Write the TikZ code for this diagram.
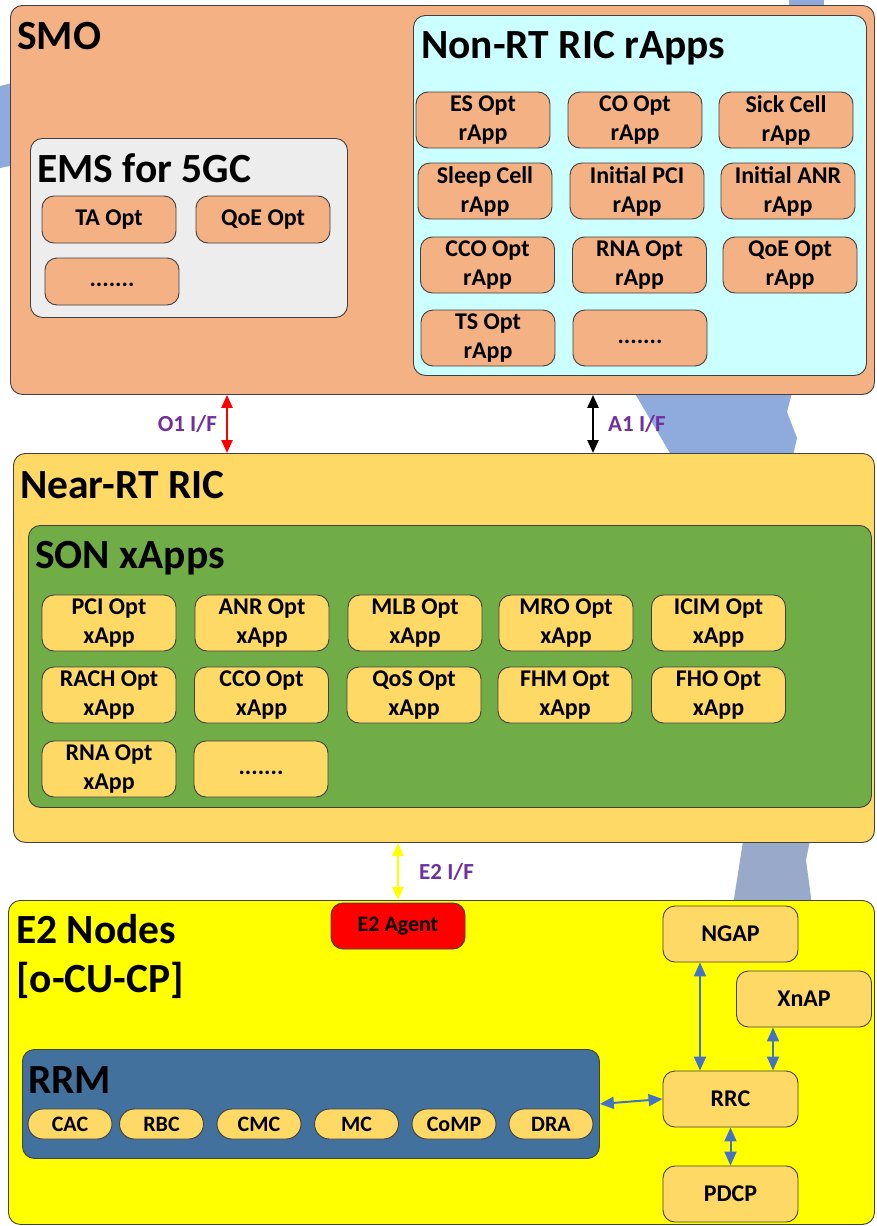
\documentclass[tikz,border=0pt]{standalone}
\usepackage{fontspec}
\setmainfont{Carlito}
\usetikzlibrary{arrows.meta,positioning}
\definecolor{edgecol}{HTML}{404040}
\definecolor{smocol}{HTML}{F4B183}
\definecolor{nonrtcol}{HTML}{CCFFFF}
\definecolor{emscol}{HTML}{EDEDED}
\definecolor{nearcol}{HTML}{FFD966}
\definecolor{soncol}{HTML}{70AD47}
\definecolor{e2col}{HTML}{FFFF00}
\definecolor{rrmcol}{HTML}{41719C}
\definecolor{ifcol}{HTML}{7030A0}
\definecolor{linkcol}{HTML}{4472C4}
\definecolor{bgblue}{HTML}{8FAADC}
\definecolor{bggrey}{HTML}{98A9C9}

\begin{document}
\begin{tikzpicture}[
    x=1pt, y=-1pt,
    panel/.style={draw=edgecol, line width=0.9pt, rounded corners=12pt,
      anchor=north west, inner sep=0pt},
    paneltitle/.style={anchor=base west, inner sep=0pt,
      font=\fontsize{41.5}{45}\selectfont\bfseries},
    appbox/.style={draw=edgecol, line width=0.9pt, rounded corners=12pt,
      minimum width=134pt, minimum height=56pt, inner sep=0pt, align=center,
      font=\fontsize{24}{29}\selectfont\bfseries},
    rapp/.style={appbox, fill=smocol},
    xapp/.style={appbox, fill=nearcol},
    dotsbox/.style={text height=15pt, text depth=5pt},
    pill/.style={draw=edgecol, line width=0.9pt, rounded corners=15pt,
      minimum width=84pt, minimum height=30pt, inner sep=0pt, fill=nearcol,
      font=\fontsize{22}{26}\selectfont\bfseries},
    ifarrow/.style={line width=2.4pt,
      {Triangle[width=11pt,length=13pt]}-{Triangle[width=11pt,length=13pt]}},
    iflabel/.style={text=ifcol, inner sep=0pt,
      font=\fontsize{23}{27}\selectfont\bfseries},
    bluelink/.style={draw=linkcol, line width=2pt,
      {Triangle[width=12pt,length=14pt]}-{Triangle[width=12pt,length=14pt]}},
  ]

  \useasboundingbox (0,0) rectangle (876,1226);
  \fill[white] (0,0) rectangle (876,1226);

  % Blue shape showing behind the panels
  \fill[bgblue] (0,86) -- (40,76) -- (40,160) -- (0,168) -- cycle;
  \fill[bgblue] (789,0) -- (824,0) -- (824,20) -- (789,20) -- cycle;
  \fill[bgblue] (630,385) -- (794,385) -- (787,412) -- (797,438)
    -- (792,460) -- (674,460) -- cycle;
  \fill[bggrey] (744,835) -- (811,835) -- (806,860) -- (812,905)
    -- (733,905) -- cycle;

  \coordinate (o1x) at (227,0);
  \coordinate (a1x) at (593,0);
  \coordinate (ngx) at (700,0);
  \coordinate (xnx) at (773,0);

  % SMO
  \node[panel, fill=smocol, minimum width=864pt, minimum height=389pt]
    (smo) at (10,5) {};
  \node[paneltitle] (smotitle) at (17,49) {SMO};

  % EMS for 5GC
  \node[panel, fill=emscol, minimum width=317pt, minimum height=179pt]
    (ems) at (30,138) {};
  \node[paneltitle] (emstitle) at (37,182) {EMS for 5GC};
  \node[rapp, minimum height=47pt] (taopt) at (109,219.5) {TA Opt};
  \node[rapp, minimum height=47pt] (qoeems) at (263,219.5) {QoE Opt};
  \node[rapp, minimum height=47pt, dotsbox] (emsmore) at (112,281.5) {.......};

  % Non-RT RIC rApps
  \node[panel, fill=nonrtcol, minimum width=453pt, minimum height=360pt]
    (nonrt) at (413,15) {};
  \node[paneltitle] (nonrttitle) at (421,58) {Non-RT RIC rApps};
  \node[rapp] (esopt) at (483,120) {ES Opt\\rApp};
  \node[rapp] (coopt) at (635,120) {CO Opt\\rApp};
  \node[rapp] (sickcell) at (786,120) {Sick Cell\\rApp};
  \node[rapp] (sleepcell) at (485,191) {Sleep Cell\\rApp};
  \node[rapp] (initpci) at (637,191) {Initial PCI\\rApp};
  \node[rapp] (initanr) at (788,191) {Initial ANR\\rApp};
  \node[rapp] (ccorapp) at (487.5,265) {CCO Opt\\rApp};
  \node[rapp] (rnarapp) at (639.5,265) {RNA Opt\\rApp};
  \node[rapp] (qoerapp) at (790,265) {QoE Opt\\rApp};
  \node[rapp] (tsopt) at (488,338) {TS Opt\\rApp};
  \node[rapp, dotsbox] (rappmore) at (640,338) {.......};

  % Near-RT RIC
  \node[panel, fill=nearcol, minimum width=861pt, minimum height=389pt]
    (nearrt) at (13,453) {};
  \node[paneltitle] (nearrttitle) at (20,498) {Near-RT RIC};

  % SON xApps
  \node[panel, fill=soncol, minimum width=843pt, minimum height=282pt]
    (son) at (28,525) {};
  \node[paneltitle] (sontitle) at (35,568) {SON xApps};
  \node[xapp] (pciopt) at (109,623) {PCI Opt\\xApp};
  \node[xapp] (anropt) at (262,623) {ANR Opt\\xApp};
  \node[xapp] (mlbopt) at (415,623) {MLB Opt\\xApp};
  \node[xapp] (mroopt) at (566,623) {MRO Opt\\xApp};
  \node[xapp] (icimopt) at (718.5,623) {ICIM Opt\\xApp};
  \node[xapp] (rachopt) at (109,695) {RACH Opt\\xApp};
  \node[xapp] (ccoxapp) at (261.5,695) {CCO Opt\\xApp};
  \node[xapp] (qosopt) at (414,695) {QoS Opt\\xApp};
  \node[xapp] (fhmopt) at (565,695) {FHM Opt\\xApp};
  \node[xapp] (fhoopt) at (718.5,695) {FHO Opt\\xApp};
  \node[xapp] (rnaxapp) at (109,769) {RNA Opt\\xApp};
  \node[xapp, dotsbox] (xappmore) at (261,769) {.......};

  % E2 Nodes
  \node[panel, fill=e2col, minimum width=866pt, minimum height=324pt]
    (e2nodes) at (8,900) {};
  \node[paneltitle] (e2title) at (16,943) {E2 Nodes};
  \node[paneltitle] (cucptitle) at (16,992) {[o-CU-CP]};
  \node[appbox, fill=red, minimum height=46pt,
    font=\fontsize{22}{26}\selectfont\bfseries] (e2agent) at (398,926) {E2 Agent};

  % RRM
  \node[panel, fill=rrmcol, minimum width=577pt, minimum height=109pt]
    (rrm) at (22,1049) {};
  \node[paneltitle] (rrmtitle) at (28,1093) {RRM};
  \node[pill] (cac) at (70,1124) {CAC};
  \node[pill] (rbc) at (161.5,1124) {RBC};
  \node[pill] (cmc) at (259,1124) {CMC};
  \node[pill] (mc) at (356.5,1124) {MC};
  \node[pill] (comp) at (454,1124) {CoMP};
  \node[pill] (dra) at (551,1124) {DRA};

  % Protocol stack
  \node[xapp, minimum width=135pt] (ngap) at (730.5,934) {NGAP};
  \node[xapp, minimum width=135pt] (xnap) at (804,999) {XnAP};
  \node[xapp, minimum width=135pt] (rrc) at (730.5,1099) {RRC};
  \node[xapp, minimum width=135pt] (pdcp) at (730.5,1194) {PDCP};

  % Interfaces
  \draw[ifarrow, red] (smo.south -| o1x) -- (nearrt.north -| o1x)
    node[midway, left=9pt, iflabel] (o1lab) {O1 I/F};
  \draw[ifarrow, black] (smo.south -| a1x) -- (nearrt.north -| a1x)
    node[midway, right=14pt, iflabel] (a1lab) {A1 I/F};
  \draw[ifarrow, e2col] (nearrt.south -| e2agent.north)
    -- (e2nodes.north -| e2agent.north)
    node[midway, right=20pt, iflabel] (e2lab) {E2 I/F};

  % Internal links
  \draw[bluelink] (ngap.south -| ngx) -- (rrc.north -| ngx);
  \draw[bluelink] (xnap.south -| xnx) -- (rrc.north -| xnx);
  \draw[bluelink] (rrc.south) -- (pdcp.north);
  \draw[bluelink] (rrm.east) -- (rrc.west);

\end{tikzpicture}
\end{document}
